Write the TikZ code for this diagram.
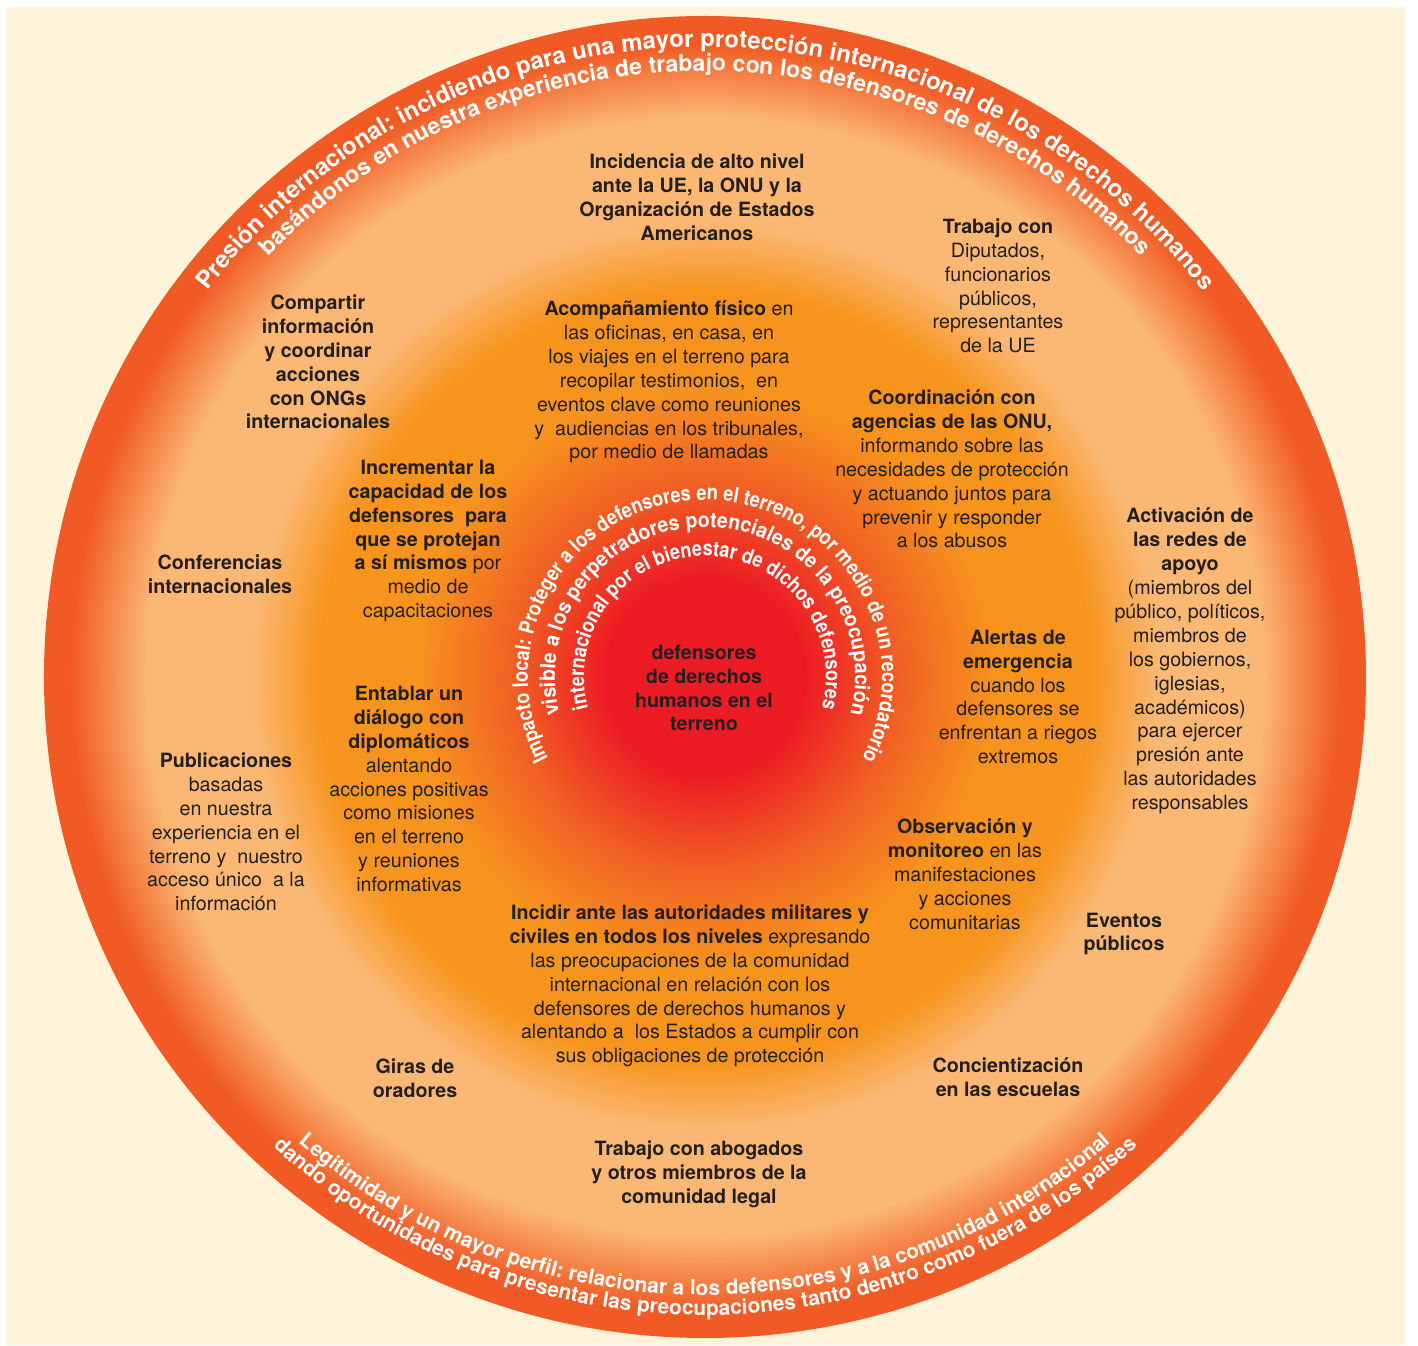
\documentclass[tikz,border=0pt]{standalone}
\usepackage{fontspec}
\setmainfont{TeX Gyre Heros}
\newfontfamily\narrowfont[FakeStretch=0.86]{TeX Gyre Heros}
\newfontfamily\midfont[FakeStretch=0.93]{TeX Gyre Heros}
\usetikzlibrary{decorations.text}

\definecolor{cream}{RGB}{255,244,218}
\definecolor{deep}{RGB}{241,90,36}
\definecolor{peach}{RGB}{251,184,117}
\definecolor{amber}{RGB}{247,148,29}
\definecolor{flame}{RGB}{241,96,36}
\definecolor{core}{RGB}{237,28,36}
\definecolor{ink}{RGB}{35,31,32}

\pgfdeclareradialshading{rings}{\pgfpointorigin}{%
  color(0bp)=(core); color(3.8bp)=(core); color(7.3bp)=(flame);
  color(11bp)=(amber); color(14.6bp)=(amber); color(17.2bp)=(peach);
  color(21.1bp)=(peach); color(24bp)=(deep); color(25bp)=(deep);
  color(50bp)=(deep)}

\newcommand\labelfont{\fontsize{11.2}{13.6}\selectfont}
\newcommand\toparcfont{\bfseries\fontsize{13.6}{15}\selectfont\color{white}}
\newcommand\topinfont{\bfseries\fontsize{13.1}{15}\selectfont\color{white}}
\newcommand\lowarcfont{\bfseries\fontsize{11.9}{13}\selectfont\color{white}}
\newcommand\hubarcfont{\narrowfont\bfseries\fontsize{12}{13}\selectfont\color{white}}
\newcommand\hubmidfont{\midfont\bfseries\fontsize{12}{13}\selectfont\color{white}}

\begin{document}
\begin{tikzpicture}[x=0.02cm, y=0.02cm,
  lbl/.style={align=center, text=ink, inner sep=0pt, font=\labelfont},
  hd/.style={lbl, font=\labelfont\bfseries}]
\useasboundingbox (-705,-669) rectangle (713,677);
\fill[white] (-705,-669) rectangle (713,677);
\fill[cream] (-699,-668) rectangle (700,670);
\shade[shading=rings] (0,0) circle (661);

% rim, top
\path[decorate, decoration={text along path, text align=center,
  text={|\toparcfont|Presión internacional: incidiendo para una mayor protección internacional de los derechos humanos}}]
  (175:630) arc[start angle=175, end angle=5, radius=630];
\path[decorate, decoration={text along path, text align=center,
  text={|\topinfont|basándonos en nuestra experiencia de trabajo con los defensores de derechos humanos}}]
  (175:606) arc[start angle=175, end angle=5, radius=606];

% rim, bottom
\path[decorate, decoration={text along path, text align=center,
  text={|\lowarcfont|Legitimidad y un mayor perfil: relacionar a los defensores y a la comunidad internacional}}]
  (195:618) arc[start angle=195, end angle=345, radius=618];
\path[decorate, decoration={text along path, text align=center,
  text={|\lowarcfont|dando oportunidades para presentar las preocupaciones tanto dentro como fuera de los países}}]
  (195:638) arc[start angle=195, end angle=345, radius=638];

% around the centre
\path[decorate, decoration={text along path, text align=center,
  text={|\hubarcfont|Impacto local: Proteger a los defensores en el terreno, por medio de un recordatorio}}]
  (255:177) arc[start angle=255, end angle=-75, radius=177];
\path[decorate, decoration={text along path, text align=center,
  text={|\hubmidfont|visible a los perpetradores potenciales de la preocupación}}]
  (255:150) arc[start angle=255, end angle=-75, radius=150];
\path[decorate, decoration={text along path, text align=center,
  text={|\hubarcfont|internacional por el bienestar de dichos defensores}}]
  (255:121) arc[start angle=255, end angle=-75, radius=121];

\node[hd] (centro) at (-1,-11) {defensores\\de derechos\\humanos en el\\terreno};

\node[hd] (incid) at (-8,480) {Incidencia de alto nivel\\ante la UE, la ONU y la\\Organización de Estados\\Americanos};
\node[lbl] (diput) at (293,391) {\textbf{Trabajo con}\\Diputados,\\funcionarios\\públicos,\\representantes\\de la UE};
\node[hd] (ongs) at (-387,315) {Compartir\\información\\y coordinar\\acciones\\con ONGs\\internacionales};
\node[lbl] (acomp) at (-36,295) {\textbf{Acompañamiento físico} en\\las oficinas, en casa, en\\los viajes en el terreno para\\recopilar testimonios,\ \ en\\eventos clave como reuniones\\y\ \ audiencias en los tribunales,\\por medio de llamadas};
\node[lbl] (onu) at (247,208) {\textbf{Coordinación con}\\\textbf{agencias de las ONU,}\\informando sobre las\\necesidades de protección\\y actuando juntos para\\prevenir y responder\\a los abusos};
\node[lbl] (capac) at (-277,136) {\textbf{Incrementar la}\\\textbf{capacidad de los}\\\textbf{defensores\ \ para}\\\textbf{que se protejan}\\\textbf{a sí mismos} por\\medio de\\capacitaciones};
\node[hd] (confer) at (-485,103) {Conferencias\\internacionales};
\node[lbl] (redes) at (485,16) {\textbf{Activación de}\\\textbf{las redes de}\\\textbf{apoyo}\\(miembros del\\público, políticos,\\miembros de\\los gobiernos,\\iglesias,\\académicos)\\para ejercer\\presión ante\\las autoridades\\responsables};
\node[lbl] (alertas) at (313,-20) {\textbf{Alertas de}\\\textbf{emergencia}\\cuando los\\defensores se\\enfrentan a riegos\\extremos};
\node[lbl] (diplo) at (-296,-112) {\textbf{Entablar un}\\\textbf{diálogo con}\\\textbf{diplomáticos}\\alentando\\acciones positivas\\como misiones\\en el terreno\\y reuniones\\informativas};
\node[lbl] (publi) at (-479,-155) {\textbf{Publicaciones}\\basadas\\en nuestra\\experiencia en el\\terreno y\ \ nuestro\\acceso único\ \ a la\\información};
\node[lbl] (observ) at (260,-197) {\textbf{Observación y}\\\textbf{monitoreo} en las\\manifestaciones\\y acciones\\comunitarias};
\node[hd] (eventos) at (419,-257) {Eventos\\públicos};
\node[lbl] (incidir) at (-15,-309) {\textbf{Incidir ante las autoridades militares y}\\\textbf{civiles en todos los niveles} expresando\\las preocupaciones de la comunidad\\internacional en relación con los\\defensores de derechos humanos y\\alentando a\ \ los Estados a cumplir con\\sus obligaciones de protección};
\node[hd] (giras) at (-290,-401) {Giras de\\oradores};
\node[hd] (escuelas) at (303,-400) {Concientización\\en las escuelas};
\node[hd] (abogados) at (-6,-497) {Trabajo con abogados\\y otros miembros de la\\comunidad legal};
\end{tikzpicture}
\end{document}
